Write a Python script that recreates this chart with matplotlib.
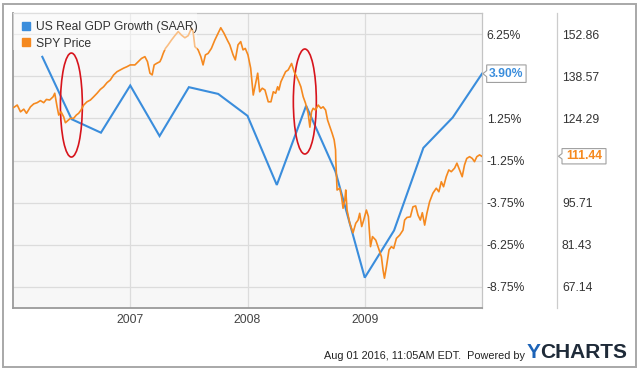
import numpy as np
import matplotlib
matplotlib.use("Agg")
import matplotlib.pyplot as plt
from matplotlib.patches import Ellipse, Polygon, Rectangle
from matplotlib.lines import Line2D
import matplotlib.transforms as mtransforms

plt.rcParams["font.family"] = ["Liberation Sans", "DejaVu Sans"]

# quarterly real GDP growth, SAAR (%), x = decimal year of quarter end
gdp_x = [2006.25, 2006.50, 2006.75, 2007.00, 2007.25, 2007.50, 2007.75, 2008.00,
         2008.25, 2008.50, 2008.75, 2009.00, 2009.25, 2009.50, 2009.75, 2010.00]
gdp_y = [4.9, 1.2, 0.4, 3.2, 0.2, 3.1, 2.7, 1.4,
         -2.7, 2.0, -1.9, -8.2, -5.4, -0.5, 1.3, 3.90]

# SPY weekly-ish price
spy_x = [2006.007, 2006.036, 2006.064, 2006.092, 2006.115, 2006.149, 2006.177, 2006.206,
         2006.234, 2006.262, 2006.285, 2006.313, 2006.342, 2006.356, 2006.376, 2006.390,
         2006.410, 2006.432, 2006.447, 2006.466, 2006.489, 2006.517, 2006.540, 2006.560,
         2006.580, 2006.603, 2006.631, 2006.660, 2006.688, 2006.717, 2006.745, 2006.773,
         2006.802, 2006.830, 2006.858, 2006.887, 2006.915, 2006.943, 2006.972, 2007.000,
         2007.040, 2007.068, 2007.096, 2007.125, 2007.147, 2007.168, 2007.187, 2007.204,
         2007.224, 2007.253, 2007.266, 2007.281, 2007.300, 2007.323, 2007.351, 2007.380,
         2007.409, 2007.437, 2007.466, 2007.494, 2007.522, 2007.536, 2007.551, 2007.579,
         2007.602, 2007.621, 2007.641, 2007.664, 2007.692, 2007.721, 2007.749, 2007.772,
         2007.800, 2007.828, 2007.849, 2007.877, 2007.896, 2007.919, 2007.942, 2007.962,
         2007.981, 2008.004, 2008.027, 2008.049, 2008.070, 2008.087, 2008.104, 2008.126,
         2008.149, 2008.177, 2008.200, 2008.220, 2008.240, 2008.257, 2008.268, 2008.285,
         2008.305, 2008.325, 2008.347, 2008.376, 2008.398, 2008.419, 2008.438, 2008.455,
         2008.475, 2008.495, 2008.517, 2008.532, 2008.546, 2008.560, 2008.580, 2008.603,
         2008.626, 2008.645, 2008.666, 2008.683, 2008.702, 2008.722, 2008.739, 2008.751,
         2008.753, 2008.764, 2008.787, 2008.802, 2008.815, 2008.830, 2008.838, 2008.849,
         2008.872, 2008.900, 2008.923, 2008.943, 2008.957, 2008.974, 2008.991, 2009.014,
         2009.031, 2009.049, 2009.066, 2009.094, 2009.122, 2009.142, 2009.156, 2009.168,
         2009.185, 2009.207, 2009.227, 2009.247, 2009.270, 2009.298, 2009.326, 2009.340,
         2009.360, 2009.389, 2009.411, 2009.434, 2009.454, 2009.474, 2009.491, 2009.511,
         2009.530, 2009.553, 2009.581, 2009.610, 2009.632, 2009.653, 2009.672, 2009.695,
         2009.717, 2009.738, 2009.766, 2009.786, 2009.809, 2009.831, 2009.851, 2009.870,
         2009.894, 2009.917, 2009.936, 2009.956, 2009.979, 2009.998]
spy_y = [128.0, 128.8, 126.5, 127.4, 126.0, 128.2, 129.2, 129.6,
         130.3, 129.6, 130.7, 130.5, 131.6, 132.8, 128.2, 125.4,
         126.5, 124.8, 122.8, 123.5, 124.3, 124.3, 125.4, 126.0,
         127.1, 128.8, 129.9, 130.5, 131.6, 132.8, 134.1, 135.0,
         136.4, 137.3, 139.0, 140.1, 140.7, 141.3, 141.8, 142.4,
         142.4, 143.5, 144.6, 145.2, 143.5, 139.6, 139.0, 142.4,
         142.9, 143.5, 144.6, 146.3, 148.0, 149.2, 150.8, 152.3,
         153.7, 152.5, 151.6, 152.3, 154.8, 153.7, 148.6, 147.5,
         145.2, 142.4, 145.8, 146.3, 148.0, 150.8, 153.1, 155.0,
         153.1, 150.8, 149.2, 145.8, 144.1, 149.2, 150.3, 147.5,
         148.0, 145.8, 141.3, 132.2, 136.2, 139.6, 133.3, 134.5,
         133.9, 129.9, 129.9, 133.3, 132.8, 135.0, 133.9, 136.7,
         138.4, 140.1, 140.7, 142.9, 140.1, 138.4, 136.7, 135.0,
         131.6, 129.4, 126.0, 121.3, 126.5, 127.7, 127.1, 128.8,
         127.7, 128.2, 127.1, 123.7, 121.5, 119.2, 117.0, 113.6,
         110.2, 100.0, 100.6, 97.7, 93.8, 96.6, 100.0, 93.2,
         88.7, 85.5, 88.7, 89.8, 92.1, 87.6, 89.8, 93.2,
         91.0, 80.8, 84.2, 83.0, 79.7, 77.4, 72.9, 70.1,
         74.0, 79.7, 80.8, 80.2, 83.6, 84.7, 86.4, 89.8,
         90.7, 90.9, 94.3, 94.6, 91.5, 89.8, 92.3, 88.1,
         92.1, 96.0, 98.9, 100.6, 99.4, 102.8, 101.1, 104.5,
         106.8, 106.2, 107.4, 109.1, 106.8, 104.5, 108.5, 110.7,
         111.3, 110.7, 109.6, 111.3, 111.9, 111.44]

pct_ticks = [6.25, 3.75, 1.25, -1.25, -3.75, -6.25, -8.75]
year_ticks = [2007, 2008, 2009]
PCT_LIM = (-10.0, 7.5)
PRICE_LIM = (60.0, 160.0)

BLUE = "#3a8ddc"
ORANGE = "#f5891f"
TXT = "#333333"


def to_price(p):
    return PRICE_LIM[0] + (p - PCT_LIM[0]) * (PRICE_LIM[1] - PRICE_LIM[0]) / (PCT_LIM[1] - PCT_LIM[0])


fig = plt.figure(figsize=(6.4, 3.71), dpi=100)
fig.patches.append(Rectangle((3 / 640, 4 / 371), 633 / 640, 363 / 371, transform=fig.transFigure,
                             fill=False, edgecolor="#a8a8a8", lw=1.4))

ax = fig.add_axes([13 / 640, 1 - 308 / 371, 469 / 640, 295 / 371])
ax2 = ax.twinx()

ax.set_facecolor("#f7f7f7")
ax.set_xlim(2006.0, 2010.0)
ax.set_ylim(*PCT_LIM)
ax.set_yticks(pct_ticks)
ax.set_yticklabels([f"{t:.2f}%" if t != 3.75 else "" for t in pct_ticks])
ax.set_xticks(year_ticks)
ax.set_xticklabels([str(y) for y in year_ticks])
ax.yaxis.tick_right()
ax.tick_params(axis="y", length=0, pad=3.5, labelsize=8.7, labelcolor=TXT)
ax.tick_params(axis="x", length=0, pad=4, labelsize=8.7, labelcolor="#444444")
ax.grid(True, color="#dcdcdc", lw=0.9)
ax.set_axisbelow(True)
for s in ["left", "bottom"]:
    ax.spines[s].set_color("#9a9a9a")
    ax.spines[s].set_linewidth(1.3)
for s in ["top", "right"]:
    ax.spines[s].set_color("#c4c4c4")
    ax.spines[s].set_linewidth(0.9)

ax2.set_ylim(*PRICE_LIM)
price_ticks = [to_price(t) for t in pct_ticks]
ax2.set_yticks(price_ticks)
ax2.set_yticklabels([f"{p:.2f}" if abs(p - 110) > 0.5 else "" for p in price_ticks])
ax2.tick_params(axis="y", length=0, pad=80 * 0.72, labelsize=8.7, labelcolor=TXT)
for s in ax2.spines.values():
    s.set_visible(False)

ax.plot(gdp_x, gdp_y, color=BLUE, lw=1.5, zorder=3, solid_joinstyle="miter")
ax2.plot(spy_x, spy_y, color=ORANGE, lw=1.2, zorder=3)

# pale box behind the legend
ax2.add_patch(Rectangle((0, 1 - 37 / 295), 184 / 469, 37 / 295, transform=ax.transAxes,
                        facecolor="white", alpha=0.45, edgecolor="none", zorder=4))
handles = [Line2D([], [], marker="s", ls="", color=BLUE, markersize=5.5),
           Line2D([], [], marker="s", ls="", color=ORANGE, markersize=5.5)]
leg = ax2.legend(handles, ["US Real GDP Growth (SAAR)", "SPY Price"], loc="upper left",
                 bbox_to_anchor=(0.0, 1.0), frameon=False, fontsize=8.7, handlelength=0.8,
                 handletextpad=0.4, labelspacing=0.35, borderaxespad=0.35, borderpad=0.35)
for t in leg.get_texts():
    t.set_color(TXT)
leg.set_zorder(5)

# red ellipses around the turning points
for cx, cy, w, h in [(2006.498, 2.04, 0.187, 6.17), (2008.489, 2.25, 0.196, 6.23)]:
    ax.add_patch(Ellipse((cx, cy), w, h, fill=False, edgecolor="#d7141c", lw=1.2, zorder=6))

# separator between the two right-hand scales
ax.plot([1.16, 1.16], [0, 1], transform=ax.transAxes, color="#cccccc", lw=0.9, clip_on=False)


def tag(axis, x0, x1, y, half, tip, text, color):
    tr = mtransforms.blended_transform_factory(axis.transAxes, axis.transData)
    pts = [(tip, y), (x0, y + half * 0.35), (x0, y + half), (x1, y + half),
           (x1, y - half), (x0, y - half), (x0, y - half * 0.35)]
    axis.add_patch(Polygon(pts, closed=True, transform=tr, facecolor="white",
                           edgecolor="#a0a0a0", lw=0.8, clip_on=False, zorder=7))
    axis.text((x0 + x1) / 2, y, text, transform=tr, ha="center", va="center",
              color=color, fontsize=8.7, fontweight="bold", zorder=8, clip_on=False)


tag(ax, 1.010, 1.094, gdp_y[-1], 0.52, 1.002, f"{gdp_y[-1]:.2f}%", BLUE)
tag(ax2, 1.1706, 1.2644, spy_y[-1], 2.6, 1.163, f"{spy_y[-1]:.2f}", ORANGE)

fig.text(324 / 640, 1 - 356 / 371, "Aug 01 2016, 11:05AM EDT.  Powered by", fontsize=7.8,
         color="#222222", va="center", ha="left")
fig.text(527 / 640, 1 - 353 / 371, "Y", fontsize=15, fontweight="bold", color="#1c63b7",
         va="center", ha="left")
fig.text(540 / 640, 1 - 353 / 371, "CHARTS", fontsize=15, fontweight="bold", color="#1e2a38",
         va="center", ha="left")

fig.savefig("out.png", dpi=100)
